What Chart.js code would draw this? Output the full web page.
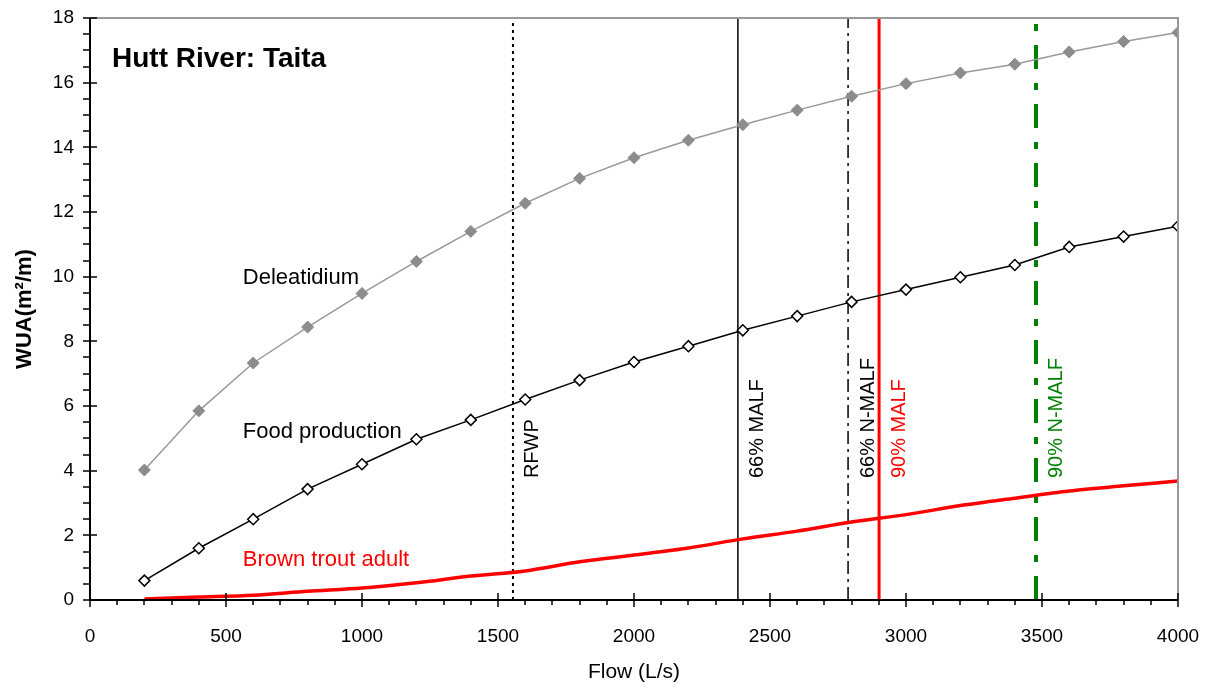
<!DOCTYPE html>
<html>
<head>
    <meta charset="utf-8">
    <script src="https://cdn.jsdelivr.net/npm/chart.js"></script>
    <style>
        body { margin: 0; background: #fff; }
        #wrap { width: 1214px; height: 689px; }
    </style>
</head>
<body>
<div id="wrap"><canvas id="wuaChart" width="1214" height="689"></canvas></div>
<script>
const flows = [200, 400, 600, 800, 1000, 1200, 1400, 1600, 1800, 2000, 2200, 2400, 2600, 2800, 3000, 3200, 3400, 3600, 3800, 4000]
const deleatidium = [4.02, 5.85, 7.33, 8.44, 9.48, 10.47, 11.4, 12.27, 13.04, 13.68, 14.22, 14.7, 15.15, 15.58, 15.97, 16.3, 16.57, 16.95, 17.27, 17.55]
const foodProduction = [0.6, 1.6, 2.5, 3.43, 4.2, 4.97, 5.57, 6.2, 6.8, 7.36, 7.85, 8.34, 8.78, 9.22, 9.6, 9.98, 10.36, 10.92, 11.24, 11.56]
const brownTrout = [0.03, 0.09, 0.15, 0.27, 0.37, 0.53, 0.74, 0.9, 1.18, 1.39, 1.61, 1.89, 2.13, 2.41, 2.64, 2.92, 3.15, 3.37, 3.53, 3.68]

const refNames = ["RFWP", "66% MALF", "66% N-MALF", "90% MALF", "90% N-MALF"]
const refFlows = [1555, 2382, 2787, 2901, 3478]
const refColors = ["#000000", "#000000", "#000000", "#ff0000", "#008000"]
const refWidths = [2, 1.5, 1.5, 3, 4]
const refDashes = [[3, 4], [], [13, 5, 3, 5], [], [24, 14, 7, 14]]

const seriesLabels = ["Deleatidium", "Food production", "Brown trout adult"]
const seriesLabelColors = ["#000000", "#000000", "#ff0000"]
const seriesLabelAt = [[562, 9.96], [562, 5.2], [562, 1.24]]

function pts(ys) {
    return flows.map((f, i) => ({x: f, y: ys[i]}))
}

const datasets = [
    {
        label: "Deleatidium", data: pts(deleatidium),
        borderColor: "#999999", backgroundColor: "#8c8c8c", borderWidth: 1.5,
        pointStyle: "rectRot", pointRadius: 6, pointBorderColor: "#8c8c8c", pointBorderWidth: 1
    },
    {
        label: "Food production", data: pts(foodProduction),
        borderColor: "#000000", backgroundColor: "#ffffff", borderWidth: 1.5,
        pointStyle: "rectRot", pointRadius: 5.5, pointBorderColor: "#000000", pointBorderWidth: 1.5
    },
    {
        label: "Brown trout adult", data: pts(brownTrout),
        borderColor: "#ff0000", borderWidth: 3.5, pointRadius: 0, tension: 0.3
    }
]
refFlows.forEach((f, i) => {
    datasets.push({
        label: refNames[i], data: [{x: f, y: 0}, {x: f, y: 18}],
        borderColor: refColors[i], borderWidth: refWidths[i], borderDash: refDashes[i],
        pointRadius: 0, order: 5
    })
})

const decor = {
    id: "decor",
    afterDatasetsDraw(chart) {
        const ctx = chart.ctx
        const xs = chart.scales.x, ys = chart.scales.y
        const a = chart.chartArea
        ctx.save()
        // frame top/right
        ctx.strokeStyle = "#999999"
        ctx.lineWidth = 2
        ctx.beginPath()
        ctx.moveTo(a.left, a.top)
        ctx.lineTo(a.right, a.top)
        ctx.lineTo(a.right, a.bottom)
        ctx.stroke()
        // axes
        ctx.strokeStyle = "#000000"
        ctx.lineWidth = 2
        ctx.beginPath()
        ctx.moveTo(a.left, a.top)
        ctx.lineTo(a.left, a.bottom)
        ctx.lineTo(a.right, a.bottom)
        ctx.stroke()
        ctx.lineWidth = 1.5
        ctx.beginPath()
        for (let v = 0; v <= 18; v += 0.5) {
            const y = Math.round(ys.getPixelForValue(v))
            const major = v % 2 === 0
            ctx.moveTo(a.left - 7, y)
            ctx.lineTo(major ? a.left + 7 : a.left, y)
        }
        for (let v = 0; v <= 4000; v += 100) {
            const x = Math.round(xs.getPixelForValue(v))
            const major = v % 500 === 0
            ctx.moveTo(x, major ? a.bottom - 7 : a.bottom)
            ctx.lineTo(x, a.bottom + (major ? 7 : 5))
        }
        ctx.stroke()
        // title
        ctx.fillStyle = "#000000"
        ctx.font = "bold 28px 'Liberation Sans', Arial, sans-serif"
        ctx.textAlign = "left"
        ctx.textBaseline = "middle"
        ctx.fillText("Hutt River: Taita", a.left + 22, 59)
        // series labels
        ctx.font = "22px 'Liberation Sans', Arial, sans-serif"
        seriesLabels.forEach((t, i) => {
            ctx.fillStyle = seriesLabelColors[i]
            ctx.fillText(t, xs.getPixelForValue(seriesLabelAt[i][0]), ys.getPixelForValue(seriesLabelAt[i][1]))
        })
        // reference line labels
        ctx.font = "20px 'Liberation Sans', Arial, sans-serif"
        refNames.forEach((t, i) => {
            ctx.save()
            ctx.translate(xs.getPixelForValue(refFlows[i]) + 20, ys.getPixelForValue(3.77))
            ctx.rotate(-Math.PI / 2)
            ctx.fillStyle = refColors[i]
            ctx.fillText(t, 0, 0)
            ctx.restore()
        })
        ctx.restore()
    }
}

new Chart(document.getElementById("wuaChart"), {
    type: "line",
    data: {datasets: datasets},
    options: {
        responsive: false,
        animation: false,
        layout: {padding: {left: 0, right: 36, top: 18, bottom: 0}},
        plugins: {legend: {display: false}, tooltip: {enabled: false}},
        scales: {
            x: {
                type: "linear", min: 0, max: 4000,
                grid: {display: false, drawTicks: false}, border: {display: false},
                ticks: {stepSize: 500, padding: 25, color: "#000", font: {size: 19, family: "'Liberation Sans', Arial"}, maxRotation: 0,
                    callback: v => String(v)},
                title: {display: true, text: "Flow (L/s)", color: "#000", font: {size: 21, family: "'Liberation Sans', Arial"}, padding: {top: 12}},
                afterFit(s) { s.height = 89; s.paddingLeft = 0; s.paddingRight = 0 }
            },
            y: {
                type: "linear", min: 0, max: 18,
                grid: {display: false, drawTicks: false}, border: {display: false},
                ticks: {stepSize: 2, padding: 16, color: "#000", font: {size: 19, family: "'Liberation Sans', Arial"}},
                title: {display: true, text: "WUA(m²/m)", color: "#000", font: {size: 22, weight: "bold", family: "'Liberation Sans', Arial"}, padding: {top: 12, bottom: 2}},
                afterFit(s) { s.width = 90; s.paddingTop = 0; s.paddingBottom = 0 }
            }
        }
    },
    plugins: [decor]
})
</script>
</body>
</html>
